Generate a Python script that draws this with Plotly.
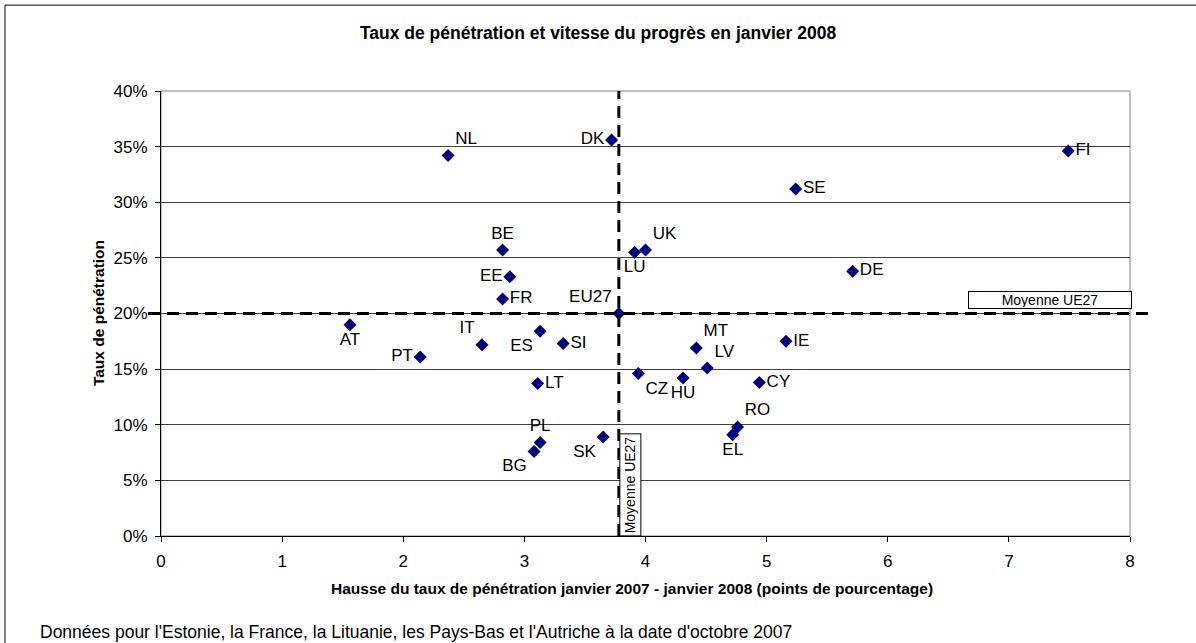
import plotly.graph_objects as go

# pays, hausse (points de %), taux de pénétration
pays = ['NL', 'DK', 'FI', 'SE', 'BE', 'UK', 'LU', 'EE', 'DE', 'FR', 'EU27',
        'AT', 'IT', 'ES', 'SI', 'PT', 'MT', 'LV', 'IE', 'CZ', 'HU', 'CY',
        'LT', 'RO', 'EL', 'PL', 'BG', 'SK']
hausse = [2.37, 3.72, 7.49, 5.24, 2.82, 4.00, 3.91, 2.88, 5.71, 2.82, 3.78,
          1.56, 2.65, 3.13, 3.32, 2.14, 4.42, 4.51, 5.16, 3.94, 4.31, 4.94,
          3.11, 4.76, 4.72, 3.13, 3.08, 3.65]
taux = [0.342, 0.356, 0.346, 0.312, 0.257, 0.257, 0.255, 0.233, 0.238, 0.213, 0.200,
        0.190, 0.172, 0.184, 0.173, 0.161, 0.169, 0.151, 0.175, 0.146, 0.142, 0.138,
        0.137, 0.098, 0.091, 0.084, 0.076, 0.089]
position = ['top right', 'middle left', 'middle right', 'middle right', 'top center',
            'top right', 'bottom center', 'middle left', 'middle right', 'middle right',
            'top left', 'bottom center', 'top left', 'bottom left', 'middle right',
            'middle left', 'top right', 'top right', 'middle right', 'bottom right',
            'bottom center', 'middle right', 'middle right', 'top right',
            'bottom center', 'top center', 'bottom left', 'bottom left']

moyenne_x = 3.78
moyenne_y = 0.20

police = 'Liberation Sans, Arial, sans-serif'

fig = go.Figure()

fig.add_trace(go.Scatter(
    x=hausse, y=taux, text=pays, mode='markers+text',
    textposition=position,
    marker=dict(symbol='diamond', size=10, color='#000080'),
    textfont=dict(family=police, size=17, color='black'),
    showlegend=False, cliponaxis=False))

# lignes de moyenne
fig.add_shape(type='line', xref='paper', yref='y', x0=-0.0134, x1=1.0237,
              y0=moyenne_y, y1=moyenne_y,
              line=dict(color='black', width=3, dash='12px,7px'))
fig.add_shape(type='line', xref='x', yref='y', x0=moyenne_x, x1=moyenne_x,
              y0=0, y1=0.40,
              line=dict(color='black', width=3, dash='12px,7px'))

# bordure du graphique
fig.add_shape(type='rect', xref='paper', yref='paper', x0=-0.161, x1=1.1,
              y0=-0.3, y1=1.193, line=dict(color='black', width=1), layer='below')
fig.add_shape(type='rect', xref='paper', yref='paper', x0=0, x1=1, y0=0, y1=1,
              line=dict(color='#808080', width=1), layer='below')

fig.add_annotation(x=moyenne_x, y=0, xref='x', yref='y', xanchor='left', yanchor='bottom',
                   text='Moyenne UE27', textangle=-90, showarrow=False,
                   font=dict(family=police, size=14, color='black'),
                   bgcolor='white', bordercolor='black', borderwidth=1, borderpad=2)
fig.add_annotation(x=6.66, y=0.204, xref='x', yref='y', xanchor='left', yanchor='bottom',
                   text='Moyenne UE27', showarrow=False, width=160, height=14,
                   font=dict(family=police, size=14, color='black'),
                   bgcolor='white', bordercolor='black', borderwidth=1, borderpad=1)

fig.add_annotation(x=0.486, y=-0.117, xref='paper', yref='paper',
                   xanchor='center', yanchor='middle',
                   text='<b>Hausse du taux de pénétration janvier 2007 - janvier 2008 (points de pourcentage)</b>',
                   showarrow=False, font=dict(family=police, size=15.5, color='black'))
fig.add_annotation(x=-0.065, y=0.501, xref='paper', yref='paper', textangle=-90,
                   xanchor='center', yanchor='middle',
                   text='<b>Taux de pénétration</b>', showarrow=False,
                   font=dict(family=police, size=15.5, color='black'))
fig.add_annotation(x=-0.127, y=-0.216, xref='paper', yref='paper',
                   xanchor='left', yanchor='middle',
                   text="Données pour l'Estonie, la France, la Lituanie, les Pays-Bas et l'Autriche à la date d'octobre 2007",
                   showarrow=False, font=dict(family=police, size=17.5, color='black'))

fig.update_layout(
    width=1196, height=643,
    margin=dict(l=161, r=66, t=91, b=107),
    paper_bgcolor='white', plot_bgcolor='white',
    title=dict(text='<b>Taux de pénétration et vitesse du progrès en janvier 2008</b>',
               x=0.5, xanchor='center', y=1 - 33 / 643, yanchor='middle',
               font=dict(family=police, size=17.5, color='black')),
    xaxis=dict(range=[0, 8], dtick=1, showgrid=False, zeroline=False,
               showline=True, linecolor='black', linewidth=1,
               ticks='outside', ticklen=5, tickcolor='black', ticklabelstandoff=5,
               tickfont=dict(family=police, size=17, color='black')),
    yaxis=dict(range=[0, 0.40], dtick=0.05, tickformat='.0%',
               showgrid=True, gridcolor='#404040', gridwidth=1, zeroline=False,
               showline=True, linecolor='black', linewidth=1,
               ticks='outside', ticklen=5, tickcolor='black', ticklabelstandoff=4,
               tickfont=dict(family=police, size=17, color='black')),
)

fig.write_html("out.html", config={'displayModeBar': False},
               post_script="document.body.style.margin='0';")
